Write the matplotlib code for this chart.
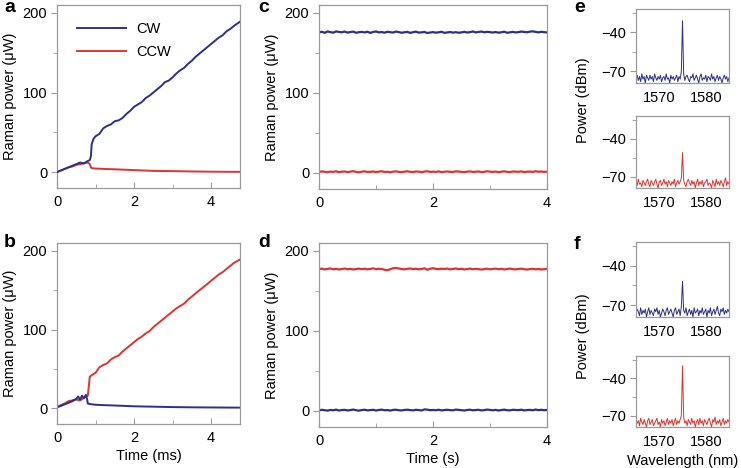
import numpy as np
import matplotlib.pyplot as plt

plt.rcParams['font.family'] = ['Liberation Sans', 'DejaVu Sans']

BLUE = '#2b2f8f'
RED = '#e3322b'
GREY = '#9a9a9a'

# ---- panel a : build-up, CW wins (time in ms, power in uW)
a_cw_t = [0, 0.1, 0.2, 0.3, 0.4, 0.5, 0.6, 0.7, 0.8, 0.85, 0.88, 0.9, 0.95, 1.0, 1.1, 1.2, 1.3, 1.4,
          1.5, 1.6, 1.7, 1.8, 1.9, 2.0, 2.1, 2.2, 2.3, 2.4, 2.5, 2.6, 2.7, 2.8, 2.9, 3.0, 3.1, 3.2,
          3.3, 3.4, 3.5, 3.6, 3.7, 3.8, 3.9, 4.0, 4.1, 4.2, 4.3, 4.4, 4.5, 4.6, 4.75]
a_cw_p = [0, 2, 4, 6, 8, 10, 12, 11, 14, 15, 20, 35, 42, 45, 48, 55, 58, 60,
          64, 65, 68, 73, 77, 82, 85, 88, 93, 96, 100, 104, 108, 113, 115, 119, 124, 128,
          131, 136, 140, 145, 149, 153, 157, 161, 165, 169, 172, 177, 180, 184, 189]
a_ccw_t = [0, 0.1, 0.2, 0.3, 0.4, 0.5, 0.6, 0.7, 0.8, 0.85, 0.88, 0.9, 1.0, 1.2, 1.5, 2.0, 2.5,
           3.0, 3.5, 4.0, 4.75]
a_ccw_p = [0, 2, 4, 6, 7, 9, 10, 11, 12, 10, 6, 5, 4.5, 4, 3.5, 2.5, 1.5, 1.2, 0.8, 0.5, 0.3]

# ---- panel b : build-up, CCW wins
b_ccw_t = [0, 0.1, 0.2, 0.3, 0.4, 0.5, 0.6, 0.7, 0.75, 0.8, 0.83, 0.85, 0.9, 1.0, 1.1, 1.2, 1.3,
           1.4, 1.5, 1.6, 1.7, 1.8, 1.9, 2.0, 2.1, 2.2, 2.3, 2.4, 2.5, 2.6, 2.7, 2.8, 2.9, 3.0,
           3.1, 3.2, 3.3, 3.4, 3.5, 3.6, 3.7, 3.8, 3.9, 4.0, 4.1, 4.2, 4.3, 4.4, 4.5, 4.6, 4.75]
b_ccw_p = [2, 4, 6, 9, 10, 11, 10, 13, 15, 16, 30, 40, 42, 45, 52, 55, 57, 62, 65, 67, 72, 76,
           80, 84, 88, 91, 95, 98, 103, 107, 111, 115, 119, 123, 127, 130, 133, 138, 142, 146,
           150, 154, 158, 162, 166, 170, 173, 177, 181, 185, 189]
b_cw_t = [0, 0.1, 0.2, 0.3, 0.4, 0.5, 0.55, 0.6, 0.65, 0.7, 0.75, 0.78, 0.8, 0.85, 0.9, 1.0,
          1.2, 1.5, 2.0, 2.5, 3.0, 3.5, 4.0, 4.75]
b_cw_p = [1, 3, 5, 7, 9, 12, 15, 11, 16, 13, 17, 12, 6, 5.5, 5, 4.5, 4, 3.5, 2.5, 2, 1.5, 1.2, 1, 0.8]

# ---- panels c, d : steady state over 4 s
cd_t = np.arange(0, 4.001, 0.05)
c_cw = [175.8, 176.5, 175.2, 176.9, 176.1, 175.4, 177.0, 176.3, 175.9, 176.8, 175.5, 176.2, 176.7,
        175.3, 176.0, 176.4, 175.7, 176.6, 175.1, 176.3, 176.9, 175.8, 176.2, 175.4, 176.5, 176.0,
        175.6, 176.8, 176.1, 175.3, 175.9, 176.4, 175.2, 176.0, 176.7, 175.5, 175.8, 176.3, 175.0,
        175.6, 176.1, 175.4, 175.9, 176.5, 175.2, 175.7, 176.2, 175.5, 176.0, 175.3, 175.8, 176.4,
        175.6, 176.1, 176.9, 175.7, 176.3, 176.8, 175.9, 176.5, 176.0, 175.6, 176.2, 175.4, 175.9,
        176.6, 175.3, 175.8, 176.4, 175.7, 176.1, 176.8, 176.3, 175.9, 176.7, 177.1, 176.4, 175.8,
        176.5, 176.0, 175.7]
c_ccw = [1.2, 2.0, 1.5, 0.9, 1.8, 1.3, 2.2, 1.0, 1.6, 1.9, 1.1, 1.7, 2.3, 1.4, 0.8, 1.6, 2.1, 1.2,
         1.5, 1.9, 1.0, 1.7, 2.2, 1.3, 1.6, 0.9, 1.8, 2.0, 1.4, 1.1, 1.7, 2.1, 1.5, 1.2, 1.9, 1.6,
         1.0, 1.8, 2.2, 1.4, 1.7, 1.3, 2.0, 1.1, 1.6, 1.9, 1.5, 1.2, 2.1, 1.8, 1.4, 1.0, 1.7, 2.0,
         1.3, 1.6, 1.9, 1.1, 1.5, 2.2, 1.7, 1.3, 1.8, 1.0, 1.6, 2.1, 1.4, 1.2, 1.9, 1.7, 1.5, 2.0,
         1.1, 1.6, 1.8, 1.3, 2.2, 1.5, 1.9, 1.4, 1.7]
d_ccw = [177.3, 178.0, 176.9, 177.6, 178.2, 177.1, 177.8, 176.8, 177.5, 178.1, 177.2, 177.7, 176.9,
         177.4, 178.0, 177.3, 177.9, 177.0, 177.6, 178.3, 177.2, 177.8, 177.4, 176.6, 175.9, 177.2,
         178.4, 178.8, 178.1, 177.5, 177.0, 177.7, 178.2, 177.3, 177.9, 177.1, 177.6, 178.4, 176.5,
         177.8, 178.5, 177.7, 177.2, 177.9, 177.4, 178.1, 177.0, 177.6, 178.2, 177.3, 177.8, 176.9,
         177.5, 178.0, 177.2, 177.7, 177.3, 176.8, 177.4, 177.9, 177.1, 177.6, 178.0, 177.2, 177.7,
         176.9, 177.5, 178.1, 177.3, 177.0, 177.6, 177.9, 177.2, 176.8, 177.4, 177.8, 177.1, 177.5,
         176.9, 177.3, 177.6]
d_cw = [0.8, 1.5, 1.0, 0.5, 1.3, 0.9, 1.7, 0.6, 1.2, 1.4, 0.7, 1.1, 1.8, 1.0, 0.4, 1.2, 1.6, 0.8,
        1.1, 1.5, 0.6, 1.3, 1.7, 0.9, 1.2, 0.5, 1.4, 1.6, 1.0, 0.7, 1.3, 1.6, 1.1, 0.8, 1.5, 1.2,
        0.6, 2.0, 1.7, 1.0, 1.3, 0.9, 1.6, 0.7, 1.2, 1.5, 1.1, 0.8, 1.7, 1.4, 1.0, 0.6, 1.3, 1.6,
        0.9, 1.2, 1.5, 0.7, 1.1, 1.8, 1.3, 0.9, 1.4, 0.6, 1.2, 1.7, 1.0, 0.8, 1.5, 1.3, 1.1, 1.6,
        0.7, 1.2, 1.4, 0.9, 1.8, 1.1, 1.5, 1.0, 1.3]

# ---- panels e, f : optical spectra (wavelength nm, power dBm)
wl = np.arange(1565, 1585.001, 0.25)
e_cw = [-75, -73, -77, -74, -78, -72, -76, -74, -79, -73, -75, -77, -73, -76, -74, -78, -72, -75,
        -77, -74, -76, -73, -78, -75, -74, -77, -72, -76, -75, -79, -73, -76, -74, -77, -75, -73,
        -78, -74, -76, -70, -31, -72, -77, -74, -73, -76, -78, -74, -75, -72, -77, -75, -73, -76,
        -79, -74, -72, -77, -75, -76, -73, -78, -74, -75, -77, -72, -76, -74, -78, -75, -73, -77,
        -74, -76, -79, -75, -73, -76, -74, -78, -75]
e_ccw = [-74, -77, -72, -76, -75, -78, -73, -75, -77, -74, -72, -76, -78, -73, -75, -77, -74, -72,
         -76, -79, -74, -73, -77, -75, -72, -76, -74, -78, -73, -75, -77, -74, -76, -72, -78, -75,
         -73, -76, -74, -71, -51, -73, -76, -78, -74, -72, -75, -77, -73, -76, -74, -79, -75, -72,
         -77, -74, -76, -73, -78, -75, -74, -72, -77, -75, -76, -79, -73, -75, -78, -72, -76, -74,
         -77, -73, -75, -78, -74, -71, -77, -74, -76]
f_cw = [-76, -73, -75, -78, -72, -77, -74, -76, -73, -79, -75, -72, -77, -74, -76, -78, -73, -75,
        -72, -77, -74, -79, -76, -73, -75, -78, -74, -72, -77, -75, -73, -76, -79, -74, -72, -77,
        -75, -73, -78, -71, -52, -74, -76, -72, -78, -75, -73, -77, -74, -79, -72, -76, -75, -73,
        -78, -74, -76, -72, -77, -75, -73, -79, -74, -76, -72, -78, -75, -73, -77, -74, -71, -76,
        -78, -73, -75, -72, -77, -74, -76, -73, -75]
f_ccw = [-73, -76, -74, -78, -72, -75, -77, -73, -76, -79, -74, -72, -77, -75, -73, -78, -76, -74,
         -72, -77, -75, -79, -73, -76, -74, -78, -75, -72, -77, -74, -76, -73, -78, -75, -72, -77,
         -74, -76, -73, -70, -30, -71, -76, -74, -78, -73, -75, -77, -72, -76, -74, -79, -75, -73,
         -77, -72, -76, -74, -78, -73, -75, -77, -74, -72, -76, -79, -73, -75, -71, -77, -74, -76,
         -73, -78, -75, -72, -77, -74, -76, -73, -75]

W, H = 741, 468
fig = plt.figure(figsize=(W / 100, H / 100), dpi=100)


def box(l, t, r, b):
    return [l / W, 1 - b / H, (r - l) / W, (b - t) / H]


def style(ax, fs=10):
    for s in ax.spines.values():
        s.set_color(GREY)
        s.set_linewidth(0.9)
    ax.tick_params(axis='y', which='both', direction='out', color=GREY, labelsize=fs, pad=3)
    ax.tick_params(axis='x', which='both', direction='in', color=GREY, labelsize=fs, pad=5)
    ax.tick_params(which='major', length=4)
    ax.tick_params(which='minor', length=3)


def raman(ax, xmax):
    ax.set_ylim(-20, 210)
    ax.set_yticks([0, 100, 200])
    ax.set_yticks([50, 150], minor=True)
    ax.set_xlim(0, xmax)
    ax.set_xticks([0, 2, 4])
    ax.set_xticks([1, 3], minor=True)
    ax.set_ylabel('Raman power (μW)', fontsize=10.5, labelpad=4)
    style(ax, 10.5)


ax_a = fig.add_axes(box(57, 5, 240, 188))
ax_a.plot(a_ccw_t, a_ccw_p, color=RED, lw=1.4, label='CCW', zorder=2)
ax_a.plot(a_cw_t, a_cw_p, color=BLUE, lw=1.4, label='CW', zorder=3)
raman(ax_a, 4.75)
h, l = ax_a.get_legend_handles_labels()
ax_a.legend(h[::-1], l[::-1], loc='upper left', bbox_to_anchor=(0.04, 0.98), frameon=False,
            handlelength=3.3, handletextpad=0.7, labelspacing=0.65, fontsize=10.5)

ax_b = fig.add_axes(box(57, 243, 240, 424))
ax_b.plot(b_ccw_t, b_ccw_p, color=RED, lw=1.4)
ax_b.plot(b_cw_t, b_cw_p, color=BLUE, lw=1.4)
raman(ax_b, 4.75)
ax_b.set_xlabel('Time (ms)', fontsize=10.5, labelpad=3)

ax_c = fig.add_axes(box(319, 5, 547, 189))
ax_c.plot(cd_t, c_cw, color=BLUE, lw=1.6)
ax_c.plot(cd_t, c_ccw, color=RED, lw=1.6)
raman(ax_c, 4)

ax_d = fig.add_axes(box(319, 243, 547, 427))
ax_d.plot(cd_t, d_ccw, color=RED, lw=1.6)
ax_d.plot(cd_t, d_cw, color=BLUE, lw=1.6)
raman(ax_d, 4)
ax_d.set_xlabel('Time (s)', fontsize=10.5, labelpad=3)

spectra = [
    (box(636, 9, 729, 83), e_cw, BLUE),
    (box(636, 116, 729, 188), e_ccw, RED),
    (box(636, 242, 729, 317), f_cw, BLUE),
    (box(636, 356, 729, 427), f_ccw, RED),
]
spec_axes = []
for rect, vals, col in spectra:
    ax = fig.add_axes(rect)
    ax.plot(wl, vals, color=col, lw=0.7)
    ax.set_xlim(1565, 1585)
    ax.set_ylim(-79, -22)
    ax.set_yticks([-40, -70])
    ax.set_yticklabels(['\u221240', '\u221270'])
    ax.set_yticks([-25, -55], minor=True)
    ax.set_xticks([1570, 1580])
    style(ax, 10.5)
    ax.tick_params(axis='x', length=0, pad=6)
    spec_axes.append(ax)

spec_axes[3].set_xlabel('Wavelength (nm)', fontsize=10.5, labelpad=3)
fig.text(583 / W, 1 - 100 / H, 'Power (dBm)', rotation=90, ha='center', va='center', fontsize=10.5)
fig.text(583 / W, 1 - 336 / H, 'Power (dBm)', rotation=90, ha='center', va='center', fontsize=10.5)

for x, y, s in [(4, 8, 'a'), (4, 242, 'b'), (258, 8, 'c'), (258, 242, 'd'), (574, 8, 'e'), (574, 244, 'f')]:
    fig.text(x / W, 1 - y / H, s, fontsize=14, fontweight='bold', ha='left', va='center')

fig.savefig('out.png', dpi=100)
